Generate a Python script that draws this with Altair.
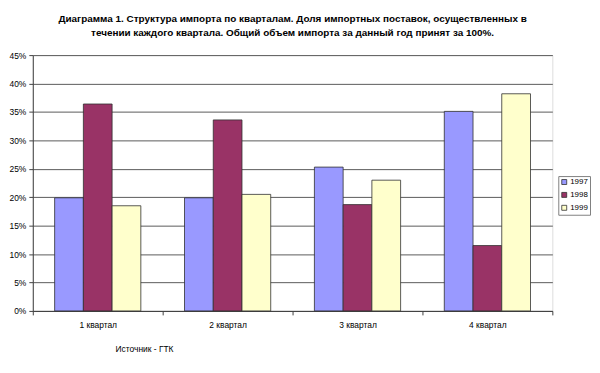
import altair as alt
import pandas as pd

quarters = ["1 квартал", "2 квартал", "3 квартал", "4 квартал"]
years = ["1997", "1998", "1999"]
v1997 = [19.9, 19.9, 25.3, 35.1]
v1998 = [36.4, 33.6, 18.7, 11.5]
v1999 = [18.5, 20.5, 23.0, 38.2]
colors = ["#9999FF", "#993366", "#FFFFCC"]
y_ticks = [0, 5, 10, 15, 20, 25, 30, 35, 40, 45]

rows = []
for y, vals in zip(years, [v1997, v1998, v1999]):
    for q, v in zip(quarters, vals):
        rows.append({"quarter": q, "year": y, "value": v})
df = pd.DataFrame(rows)

font = "Liberation Sans"

chart = alt.Chart(df).mark_bar(stroke="#303030", strokeWidth=0.8).encode(
    x=alt.X("quarter:N", sort=quarters,
            scale=alt.Scale(paddingInner=0, paddingOuter=0),
            axis=alt.Axis(title="Источник - ГТК", labelAngle=0, tickBand="extent",
                          labelFont=font, labelFontSize=8.5, labelColor="#000",
                          labelPadding=6, domainColor="#404040", tickColor="#404040",
                          tickSize=4, titleFont=font, titleFontSize=8.5,
                          titleFontWeight="normal", titleColor="#000",
                          titleAnchor="start", titleAlign="left", titleX=83, titleY=38,
                          titleBaseline="middle")),
    xOffset=alt.XOffset("year:N", scale=alt.Scale(paddingOuter=0.76, paddingInner=0)),
    y=alt.Y("value:Q", scale=alt.Scale(domain=[0, 45], nice=False),
            axis=alt.Axis(title=None, values=y_ticks, labelExpr="datum.value + '%'",
                          labelFont=font, labelFontSize=8.5, labelColor="#000",
                          grid=True, gridColor="#5a5a5a", gridWidth=1,
                          domainColor="#404040", tickColor="#404040", tickSize=4,
                          labelPadding=3)),
    color=alt.Color("year:N", scale=alt.Scale(domain=years, range=colors),
                    legend=alt.Legend(title=None, orient="none", legendX=530, legendY=122,
                                      symbolType="square", symbolSize=25,
                                      symbolStrokeColor="#303030", symbolStrokeWidth=0.8,
                                      labelFont=font, labelFontSize=8, labelColor="#000",
                                      rowPadding=3, padding=2, strokeColor="#808080",
                                      fillColor="#ffffff", cornerRadius=0,
                                      labelOffset=2)),
).properties(
    width=524, height=258,
    autosize=alt.AutoSizeParams(type="none"),
    padding={"left": 25, "top": 46, "right": 40, "bottom": 50},
    title=alt.TitleParams(
        ["Диаграмма 1. Структура импорта по кварталам. Доля импортных поставок, осуществленных в",
         "течении каждого квартала. Общий объем импорта за данный год принят за 100%."],
        font=font, fontSize=10, fontWeight="bold", color="#000", anchor="middle",
        lineHeight=14, offset=13),
).configure_view(fill="#C0C0C0", stroke=None).configure(background="#ffffff")

chart.save("out.html", embed_options={"renderer": "svg", "actions": False})
